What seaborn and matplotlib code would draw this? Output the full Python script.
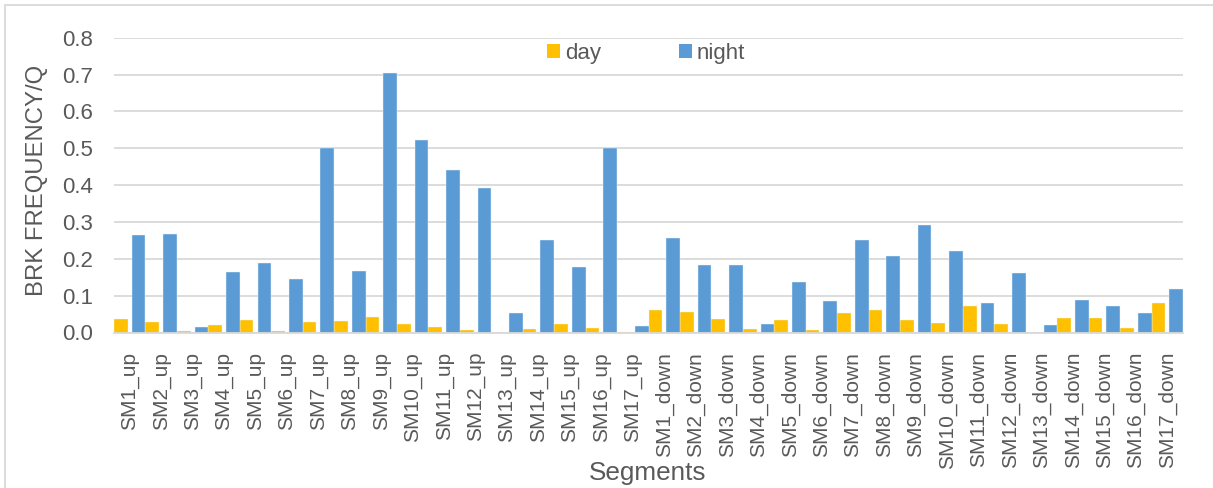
import matplotlib
matplotlib.use("Agg")
import matplotlib.pyplot as plt
import matplotlib.patches as mpatches
import numpy as np
import pandas as pd
import seaborn as sns

# Segment names (upstream then downstream)
segments = [f"SM{i}_up" for i in range(1, 18)] + [f"SM{i}_down" for i in range(1, 18)]

# Break frequency per quarter, day shift
day = [0.036, 0.029, 0.004, 0.020, 0.033, 0.004, 0.028, 0.032, 0.041, 0.024,
       0.014, 0.008, 0.000, 0.009, 0.023, 0.012, 0.002,
       0.061, 0.056, 0.037, 0.010, 0.033, 0.007, 0.052, 0.060, 0.033,
       0.025, 0.072, 0.023, 0.000, 0.039, 0.038, 0.012, 0.079]

# Break frequency per quarter, night shift
night = [0.264, 0.267, 0.015, 0.165, 0.188, 0.145, 0.500, 0.166, 0.704, 0.523,
         0.442, 0.391, 0.052, 0.250, 0.178, 0.501, 0.017,
         0.256, 0.183, 0.183, 0.024, 0.138, 0.085, 0.250, 0.208, 0.291,
         0.221, 0.080, 0.161, 0.021, 0.088, 0.071, 0.052, 0.117]

periods = ["day", "night"]
colors = {"day": "#FFC000", "night": "#5B9BD5"}
yticks = [0.0, 0.1, 0.2, 0.3, 0.4, 0.5, 0.6, 0.7, 0.8]

df = pd.DataFrame({
    "Segments": segments * 2,
    "period": ["day"] * len(day) + ["night"] * len(night),
    "value": day + night,
})

sns.set_theme(style="white")
plt.rcParams["font.family"] = ["Liberation Sans", "DejaVu Sans"]
TEXT = "#595959"
GRID = "#D9D9D9"

W, H = 1213, 488
fig = plt.figure(figsize=(W / 100, H / 100), dpi=100)
left, right, top0, base = 114, 1183, 37.7, 332.5
ax = fig.add_axes([left / W, (H - base) / H, (right - left) / W, (base - top0) / H])

sns.barplot(data=df, x="Segments", y="value", hue="period", order=segments,
            hue_order=periods, palette=colors, saturation=1, width=1.0, gap=0.13,
            errorbar=None, legend=False, ax=ax,
            edgecolor="#EAF2FA", linewidth=0.3, zorder=3)

# push the two series to the outer edges of each category
shift = 0.0325
for cont, sgn in zip(ax.containers, (-1, 1)):
    for bar in cont:
        bar.set_x(bar.get_x() + sgn * shift)

ax.set_xlim(-0.5, len(segments) - 0.5)
ax.set_ylim(0, 0.8)
ax.set_yticks(yticks)
ax.set_yticklabels([f"{v:.1f}" for v in yticks])
ax.yaxis.grid(True, color=GRID, linewidth=1.3)
ax.set_axisbelow(True)

for s in ("top", "right", "left"):
    ax.spines[s].set_visible(False)
ax.spines["bottom"].set_color(GRID)
ax.spines["bottom"].set_linewidth(1.3)
ax.spines["bottom"].set_zorder(4)

ax.set_xticks(np.arange(len(segments)))
ax.set_xticklabels(segments, rotation=90, fontsize=15, color=TEXT)
ax.set_xticks(np.arange(len(segments) + 1) - 0.5, minor=True)
ax.tick_params(axis="x", which="major", length=0, pad=14)
ax.tick_params(axis="x", which="minor", length=5, width=1.2, color=GRID)
ax.tick_params(axis="y", length=0, pad=15, labelsize=16, labelcolor=TEXT)
for lab in ax.get_xticklabels():
    lab.set_verticalalignment("top")

ax.set_xlabel("Segments", fontsize=18.8, color=TEXT)
ax.xaxis.set_label_coords((648 - left) / (right - left), (base - 480) / (base - top0))
ax.xaxis.label.set_verticalalignment("baseline")

ax.set_ylabel("BRK FREQUENCY/Q", fontsize=17.2, color=TEXT)
ax.yaxis.set_label_coords((37 - left) / (right - left), (base - 180) / (base - top0))
ax.yaxis.label.set_verticalalignment("center")
ax.yaxis.label.set_horizontalalignment("center")

handles = [mpatches.Patch(facecolor=colors[p], edgecolor="none", label=p) for p in periods]
leg = ax.legend(handles=handles, ncol=2, frameon=False, fontsize=16,
                handlelength=0.6, handleheight=0.6, handletextpad=0.2,
                columnspacing=3.5, loc="center",
                bbox_to_anchor=((646 - left) / (right - left), (base - 53.5) / (base - top0)))
for t in leg.get_texts():
    t.set_color(TEXT)

# chart-area border
fig.patches.append(mpatches.Rectangle((5 / W, -0.02), 1.05, (H - 5) / H + 0.02,
                                      transform=fig.transFigure, fill=False,
                                      edgecolor=GRID, linewidth=1.3, zorder=0))

fig.savefig("out.png", dpi=100)
